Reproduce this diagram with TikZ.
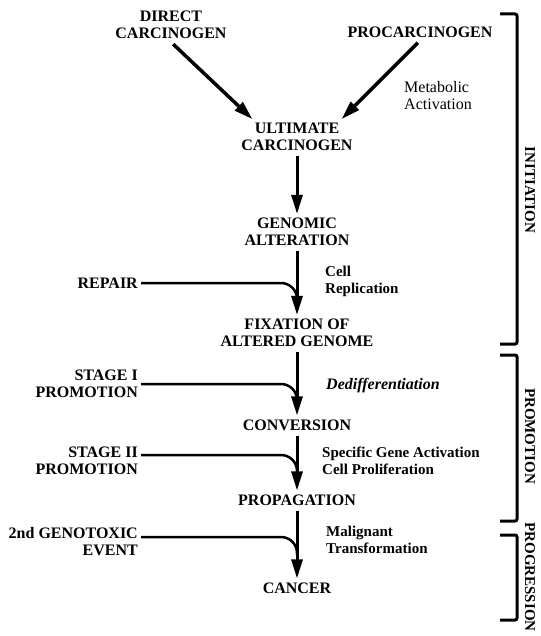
\documentclass[tikz,border=0pt]{standalone}
\usepackage{fontspec}
\setmainfont{Liberation Serif}
\usetikzlibrary{arrows.meta}

\begin{document}
\begin{tikzpicture}[x=1pt,y=1pt,>={Triangle[length=19pt,width=11pt]},
   stage/.style={font=\fontsize{16}{17}\selectfont\bfseries,align=center,inner sep=3pt},
   agent/.style={font=\fontsize{16}{17}\selectfont\bfseries,align=right,anchor=east,inner sep=3pt},
   event/.style={font=\fontsize{15}{17}\selectfont\bfseries,align=left,anchor=west,inner sep=0pt},
   flow/.style={->,line width=3pt,shorten <=2pt,shorten >=1pt},
   feed/.style={line width=2.5pt,rounded corners=16pt},
   bracket/.style={line width=3pt,rounded corners=2pt},
   phase/.style={font=\fontsize{15}{17}\selectfont\bfseries,rotate=-90}]
   % Page frame
   \useasboundingbox (0,0) rectangle (540,-636);
   % Main chain of stages
   \node [stage] (direct)      at (171,-25)  {DIRECT\\CARCINOGEN};
   \node [stage] (procarc)     at (420,-32)  {PROCARCINOGEN};
   \node [stage] (ultimate)    at (297,-137) {ULTIMATE\\CARCINOGEN};
   \node [stage] (genomic)     at (297,-232) {GENOMIC\\ALTERATION};
   \node [stage] (fixation)    at (297,-333) {FIXATION OF\\ALTERED GENOME};
   \node [stage] (conversion)  at (297,-425) {CONVERSION};
   \node [stage] (propagation) at (297,-500) {PROPAGATION};
   \node [stage] (cancer)      at (297,-588) {CANCER};
   % Agents coming in from the left
   \node [agent] (repair)  at (141,-283) {REPAIR};
   \node [agent] (stageI)  at (141,-384) {STAGE I\\PROMOTION};
   \node [agent] (stageII) at (141,-461) {STAGE II\\PROMOTION};
   \node [agent] (genotox) at (141,-542) {2nd GENOTOXIC\\EVENT};
   % Events on the right
   \node [event,font=\fontsize{16}{17}\selectfont] (metab) at (404,-96) {Metabolic\\Activation};
   \node [event] (cellrep)   at (325,-281) {Cell\\Replication};
   \node [event,font=\fontsize{16}{17}\selectfont\bfseries\itshape] (dediff) at (326,-386) {Dedifferentiation};
   \node [event] (specific)  at (322,-461) {Specific Gene Activation\\Cell Proliferation};
   \node [event] (malignant) at (326,-540) {Malignant\\Transformation};
   % Arrows
   \draw [flow,line width=3.5pt,shorten <=3pt] (direct.south) -- ([xshift=15pt]ultimate.north west);
   \draw [flow,line width=3.5pt,shorten <=3pt] (procarc.south) -- ([xshift=-15pt]ultimate.north east);
   \draw [flow] (ultimate) -- (genomic);
   \draw [flow] (genomic) -- (fixation);
   \draw [flow] (fixation) -- (conversion);
   \draw [flow] (conversion) -- (propagation);
   \draw [flow] (propagation) -- (cancer);
   % Joins of the side lines
   \coordinate (j1) at (297,-303);
   \coordinate (j2) at (297,-402);
   \coordinate (j3) at (297,-474);
   \coordinate (j4) at (297,-556);
   \draw [feed] (repair.east) -| (j1);
   \draw [feed] (stageI.east) -| (j2);
   \draw [feed] ([yshift=6pt]stageII.east) -| (j3);
   \draw [feed] ([yshift=5pt]genotox.east) -| (j4);
   % Phase brackets
   \draw [bracket] (500,-14) -- (517,-14) -- (517,-344) -- (500,-344);
   \draw [bracket] (500,-355) -- (517,-355) -- (517,-521) -- (500,-521);
   \draw [bracket] (500,-535) -- (517,-535) -- (517,-620) -- (500,-620);
   \node [phase] (initiation)  at (530,-190) {INITIATION};
   \node [phase] (promotion)   at (530,-436) {PROMOTION};
   \node [phase] (progression) at (530,-577) {PROGRESSION};
\end{tikzpicture}
\end{document}
